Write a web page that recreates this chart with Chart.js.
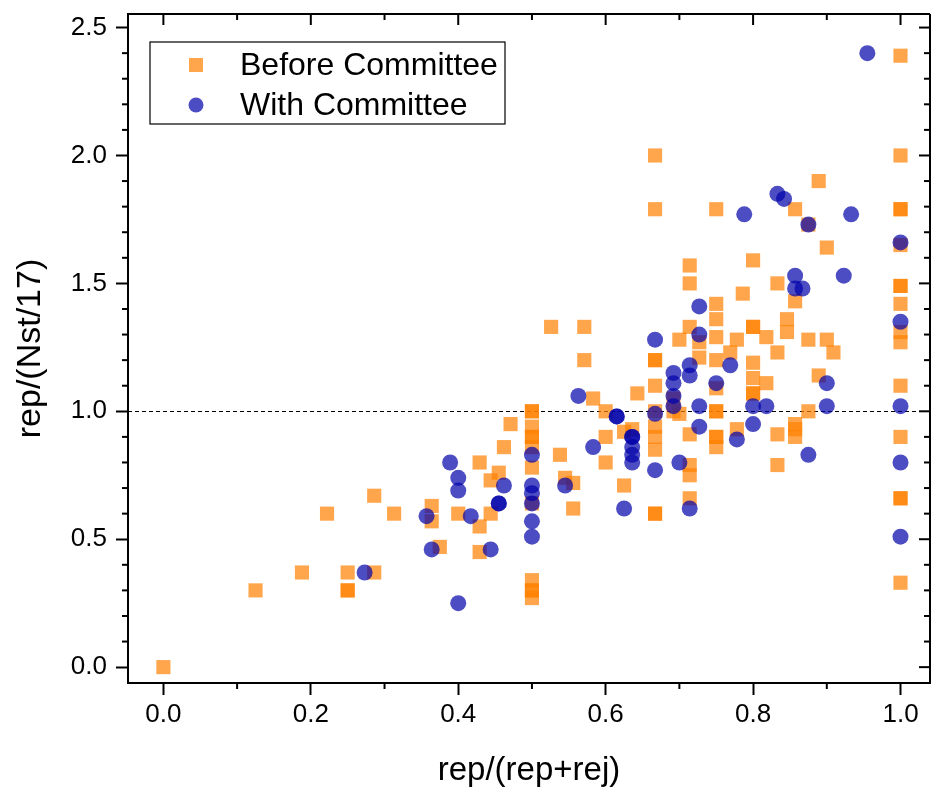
<!DOCTYPE html>
<html>
<head>
<meta charset="utf-8">
<script src="https://cdn.jsdelivr.net/npm/chart.js@4.4.1/dist/chart.umd.min.js"></script>
<style>
  html, body { margin: 0; padding: 0; background: #fff; overflow: hidden; }
  canvas { display: block; }
</style>
</head>
<body>
<canvas id="grafico" width="932" height="787"></canvas>
<script>
// valores (x = rep/(rep+rej), y = rep/(Nst/17))
const beforeX = [
  0, 0.125, 0.188, 0.222, 0.25, 0.25, 0.25, 0.286, 0.286, 0.313,
  0.364, 0.364, 0.375, 0.4, 0.429, 0.429, 0.429, 0.444, 0.444, 0.455, 0.462, 0.471,
  0.5, 0.5, 0.5, 0.5, 0.5, 0.5, 0.5, 0.5, 0.5, 0.5, 0.5, 0.5,
  0.526, 0.538, 0.545, 0.556, 0.556, 0.571, 0.571, 0.583,
  0.6, 0.6, 0.6, 0.625, 0.625, 0.636, 0.643,
  0.667, 0.667, 0.667, 0.667, 0.667, 0.667, 0.667, 0.667, 0.667, 0.667, 0.667,
  0.692, 0.692, 0.7, 0.7,
  0.714, 0.714, 0.714, 0.714, 0.714, 0.714, 0.714, 0.727, 0.727,
  0.75, 0.75, 0.75, 0.75, 0.75, 0.75, 0.75, 0.75, 0.75, 0.75, 0.75,
  0.769, 0.778, 0.778, 0.786,
  0.8, 0.8, 0.8, 0.8, 0.8, 0.8, 0.8, 0.818, 0.818,
  0.833, 0.833, 0.833, 0.833, 0.846, 0.846,
  0.857, 0.857, 0.857, 0.857, 0.857, 0.875, 0.875, 0.875,
  0.889, 0.889, 0.9, 0.9, 0.909,
  1, 1, 1, 1, 1, 1, 1, 1, 1, 1, 1, 1, 1, 1, 1
];
const beforeY = [
  0, 0.30, 0.37, 0.60, 0.37, 0.30, 0.30, 0.67, 0.37, 0.60,
  0.63, 0.57, 0.47, 0.60, 0.80, 0.55, 0.45, 0.73, 0.60, 0.76, 0.86, 0.95,
  1.0, 1.0, 0.94, 0.9, 0.9, 0.86, 0.78, 0.64, 0.34, 0.30, 0.30, 0.27,
  1.33, 0.83, 0.74, 0.72, 0.62, 1.33, 1.20, 1.05,
  1.0, 0.9, 0.8, 0.92, 0.71, 0.93, 1.07,
  2.0, 1.79, 1.2, 1.2, 1.1, 1.0, 0.94, 0.9, 0.85, 0.6, 0.6,
  1.05, 1.0, 1.28, 0.99,
  1.57, 1.5, 1.33, 0.91, 0.79, 0.75, 0.66, 1.27, 1.21,
  1.79, 1.42, 1.36, 1.29, 1.2, 1.09, 1.0, 1.0, 0.9, 0.9, 0.86,
  1.23, 1.28, 0.93, 1.46,
  1.59, 1.33, 1.33, 1.19, 1.13, 1.07, 1.07, 1.29, 1.11,
  1.5, 1.23, 0.91, 0.79, 1.36, 1.31,
  1.79, 1.43, 0.95, 0.93, 0.9, 1.73, 1.28, 1.0,
  1.9, 1.14, 1.64, 1.28, 1.23,
  2.39, 2.0, 1.79, 1.79, 1.65, 1.49, 1.49, 1.42, 1.31, 1.27, 1.1, 0.9, 0.66, 0.66, 0.33
];
const withX = [
  0.273, 0.357, 0.364, 0.389, 0.4, 0.4, 0.4, 0.417, 0.444, 0.455, 0.455, 0.462,
  0.5, 0.5, 0.5, 0.5, 0.5, 0.5,
  0.545, 0.563, 0.583, 0.615, 0.615, 0.625,
  0.636, 0.636, 0.636, 0.636, 0.636,
  0.667, 0.667, 0.667, 0.692, 0.692, 0.692, 0.692, 0.7,
  0.714, 0.714, 0.714, 0.727, 0.727, 0.727, 0.727,
  0.75, 0.769, 0.778, 0.788, 0.8, 0.8, 0.818,
  0.833, 0.842, 0.857, 0.857, 0.867, 0.875, 0.875,
  0.9, 0.9, 0.923, 0.933, 0.955,
  1, 1, 1, 1, 1
];
const withY = [
  0.37, 0.59, 0.46, 0.80, 0.74, 0.69, 0.25, 0.59, 0.46, 0.64, 0.64, 0.71,
  0.83, 0.71, 0.68, 0.64, 0.57, 0.51,
  0.71, 1.06, 0.86, 0.98, 0.98, 0.62,
  0.9, 0.9, 0.86, 0.83, 0.80,
  1.28, 0.99, 0.77, 1.15, 1.11, 1.06, 1.02, 0.80,
  1.18, 1.14, 0.62, 1.41, 1.30, 1.02, 0.94,
  1.11, 1.18, 0.89, 1.77, 1.02, 0.95, 1.02,
  1.85, 1.83, 1.53, 1.48, 1.48, 1.73, 0.83,
  1.11, 1.02, 1.53, 1.77, 2.4,
  1.66, 1.35, 1.02, 0.80, 0.51
];
const seriesNames = ['Before Committee', 'With Committee'];
const xTicks = [0, 0.2, 0.4, 0.6, 0.8, 1.0];
const yTicks = [0, 0.5, 1.0, 1.5, 2.0, 2.5];
const refLine = 1.0;

const pontos = (xs, ys) => xs.map((v, i) => ({ x: v, y: ys[i] }));

Chart.defaults.font.family = "'Liberation Sans', Arial, sans-serif";
Chart.defaults.color = '#000';

// moldura, ticks menores, ticks de cima/direita e linha tracejada
const moldura = {
  id: 'moldura',
  beforeDatasetsDraw(chart) {
    const { ctx, chartArea: a, scales: { y } } = chart;
    const py = Math.round(y.getPixelForValue(refLine)) + 0.5;
    ctx.save();
    ctx.strokeStyle = '#000';
    ctx.lineWidth = 1;
    ctx.setLineDash([4, 3]);
    ctx.beginPath();
    ctx.moveTo(a.left, py);
    ctx.lineTo(a.right, py);
    ctx.stroke();
    ctx.restore();
  },
  afterDraw(chart) {
    const { ctx, chartArea: a, scales: { x, y } } = chart;
    ctx.save();
    ctx.strokeStyle = '#000';
    ctx.lineWidth = 2;
    ctx.beginPath();
    ctx.moveTo(a.left, a.top); ctx.lineTo(a.right, a.top);
    ctx.moveTo(a.right, a.top); ctx.lineTo(a.right, a.bottom);
    ctx.stroke();

    const linha = (x1, y1, x2, y2) => { ctx.beginPath(); ctx.moveTo(x1, y1); ctx.lineTo(x2, y2); ctx.stroke(); };
    // x: passo 0.1
    for (let k = 0; k <= 10; k++) {
      const px = x.getPixelForValue(k / 10);
      const major = k % 2 === 0;
      const len = major ? 11 : 6;
      if (!major) linha(px, a.bottom, px, a.bottom + len);
      linha(px, a.top, px, a.top + len);
    }
    // y: passo 0.1
    for (let k = 0; k <= 25; k++) {
      const py = y.getPixelForValue(k / 10);
      const major = k % 5 === 0;
      const len = major ? 11 : 6;
      if (!major) linha(a.left - len, py, a.left, py);
      linha(a.right - len, py, a.right, py);
    }
    ctx.restore();
  }
};

// legenda com caixa, desenhada dentro da área do gráfico
const legendaCaixa = {
  id: 'legendaCaixa',
  afterDraw(chart) {
    const { ctx, chartArea: a } = chart;
    const bx = a.left + 22, by = a.top + 28, bw = 355, bh = 82;
    ctx.save();
    ctx.strokeStyle = '#000';
    ctx.lineWidth = 1.2;
    ctx.strokeRect(bx, by, bw, bh);
    ctx.font = "32px 'Liberation Sans', Arial, sans-serif";
    ctx.textBaseline = 'middle';
    chart.data.datasets.forEach((ds, i) => {
      const cy = by + 23 + i * 40;
      const cx = bx + 46;
      ctx.fillStyle = ds.backgroundColor;
      ctx.beginPath();
      if (ds.pointStyle === 'rect') {
        ctx.rect(cx - 7, cy - 7, 14, 14);
      } else {
        ctx.arc(cx, cy, 7.5, 0, Math.PI * 2);
      }
      ctx.fill();
      ctx.fillStyle = '#000';
      ctx.fillText(ds.label, bx + 90, cy + 1);
    });
    ctx.restore();
  }
};

new Chart(document.getElementById('grafico'), {
  type: 'scatter',
  data: {
    datasets: [
      {
        label: seriesNames[0],
        data: pontos(beforeX, beforeY),
        pointStyle: 'rect',
        pointRadius: 10,
        pointHoverRadius: 10,
        pointBorderWidth: 0,
        backgroundColor: 'rgba(255,128,0,0.7)',
        borderColor: 'rgba(0,0,0,0)',
        order: 2
      },
      {
        label: seriesNames[1],
        data: pontos(withX, withY),
        pointStyle: 'circle',
        pointRadius: 8,
        pointHoverRadius: 8,
        pointBorderWidth: 0,
        backgroundColor: 'rgba(0,0,170,0.7)',
        borderColor: 'rgba(0,0,0,0)',
        order: 1
      }
    ]
  },
  options: {
    responsive: false,
    animation: false,
    devicePixelRatio: 1,
    layout: { autoPadding: false, padding: { top: 14, right: 2, left: 0, bottom: 0 } },
    plugins: { legend: { display: false }, tooltip: { enabled: false } },
    scales: {
      x: {
        type: 'linear',
        min: -0.048,
        max: 1.04,
        afterBuildTicks: s => { s.ticks = xTicks.map(v => ({ value: v })); },
        afterFit: s => { s.height = 104; s.paddingLeft = 0; s.paddingRight = 0; },
        ticks: { font: { size: 26 }, padding: 4, callback: v => Number(v).toFixed(1), maxRotation: 0 },
        grid: { drawOnChartArea: false, drawTicks: true, tickLength: 12, tickWidth: 2, tickColor: '#000' },
        border: { display: true, width: 2, color: '#000' },
        title: { display: true, text: 'rep/(rep+rej)', font: { size: 33, lineHeight: 1 }, padding: { top: 0, bottom: 0 } }
      },
      y: {
        type: 'linear',
        min: -0.062,
        max: 2.553,
        afterBuildTicks: s => { s.ticks = yTicks.map(v => ({ value: v })); },
        afterFit: s => { s.width = 128; s.paddingTop = 0; s.paddingBottom = 0; },
        ticks: { font: { size: 26 }, padding: 9, callback: v => Number(v).toFixed(1) },
        grid: { drawOnChartArea: false, drawTicks: true, tickLength: 12, tickWidth: 2, tickColor: '#000' },
        border: { display: true, width: 2, color: '#000' },
        title: { display: true, text: 'rep/(Nst/17)', font: { size: 34, lineHeight: 1 }, padding: { top: 14, bottom: 0 } }
      }
    }
  },
  plugins: [moldura, legendaCaixa]
});
</script>
</body>
</html>
